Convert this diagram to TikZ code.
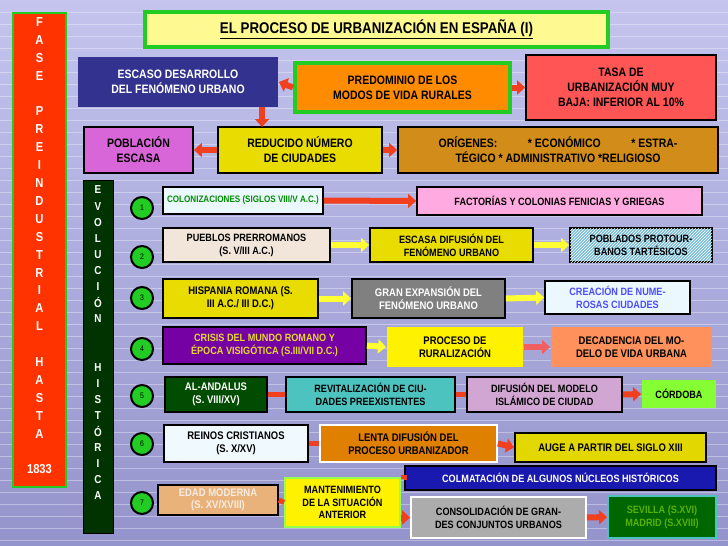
\documentclass[tikz,border=0pt]{standalone}
\usepackage{fontspec}
\setmainfont{Liberation Sans}[FakeStretch=0.86]
\usetikzlibrary{arrows.meta,patterns}
\definecolor{bgtop}{HTML}{C4C4EE}
\definecolor{bgbot}{HTML}{9494CC}
\definecolor{fred}{HTML}{FF3300}
\definecolor{fgreen}{HTML}{22CC22}
\definecolor{arrred}{HTML}{F04020}
\definecolor{arryel}{HTML}{FFFF33}
\definecolor{arrpink}{HTML}{F06060}
\newcommand\mybox[7]{\node[bx,#6,minimum width={#4-#2},minimum height={#5-#3}] (#1) at ({(#2+#4)/2},{(#3+#5)/2}) {#7};}
\tikzset{
 bx/.style={draw=black,line width=1.8pt,inner sep=1pt,align=center,font=\bfseries\fontsize{10.6}{12.8}\selectfont},
 big/.style={font=\bfseries\fontsize{12.2}{15}\selectfont},
 ra/.style={-{Triangle[length=8pt,width=14pt]},line width=6pt,draw=arrred},
 ya/.style={-{Triangle[length=8pt,width=14pt]},line width=6pt,draw=arryel},
 pa/.style={-{Triangle[length=8pt,width=14pt]},line width=6pt,draw=arrpink},
 rl/.style={line width=5pt,draw=arrred},
 num/.style={circle,draw=black,line width=2pt,fill=fgreen,minimum size=22pt,inner sep=0pt,font=\fontsize{8}{9}\selectfont}
}
\begin{document}
\begin{tikzpicture}[x=1pt,y=-1pt]
\useasboundingbox (0,0) rectangle (728,546);
\shade[top color=bgtop,bottom color=bgbot] (0,0) rectangle (728,546);
\foreach \k in {1,...,45} {\draw[white,opacity=0.35,line width=0.6pt] (0,\k*12) -- (728,\k*12);}
% Fase bar
\node[draw=fgreen,line width=2.5pt,fill=fred,minimum width=53pt,minimum height=474pt] (fase) at (39.5,250) {};
\foreach \t [count=\i] in {F,A,S,E,,P,R,E,I,N,D,U,S,T,R,I,A,L,,H,A,S,T,A,,1833}
  \node[text=white,font=\bfseries\fontsize{13}{13}\selectfont] at (39.5,{22+(\i-1)*17.9}) {\t};
% Evolucion bar
\node[draw=black,line width=1pt,fill=black!20!green!25!black,minimum width=30pt,minimum height=353pt] (evo) at (98,356.5) {};
\foreach \t [count=\i] in {E,V,O,L,U,C,I,Ó,N,,,H,I,S,T,Ó,R,I,C,A}
  \node[text=white,font=\bfseries\fontsize{11.5}{11.5}\selectfont] at (98,{190+(\i-1)*16.1}) {\t};
% title
\mybox{title}{145}{12}{608}{47}{draw=fgreen,line width=3.5pt,fill=yellow!40!white!95!yellow,font=\bfseries\fontsize{15.5}{17}\selectfont}{\underline{EL PROCESO DE URBANIZACIÓN EN ESPAÑA (I)}}
% top boxes
\mybox{escaso}{78}{57}{278}{107}{big,draw=none,fill=blue!45!black!80!white,text=white}{ESCASO DESARROLLO\\DEL FENÓMENO URBANO}
\mybox{predom}{295}{63}{510}{112}{big,draw=fgreen,line width=4pt,fill=orange!90!yellow}{PREDOMINIO DE LOS\\MODOS DE VIDA RURALES}
\mybox{tasa}{526}{55}{716}{120}{big,fill=red!65!white!95!red}{TASA DE\\URBANIZACIÓN MUY\\BAJA: INFERIOR AL 10\%}
\mybox{pobl}{84}{127}{193}{173}{big,fill=violet!50!magenta!60!white}{POBLACIÓN\\ESCASA}
\mybox{reduc}{218}{127}{382}{173}{big,fill=yellow!80!olive}{REDUCIDO NÚMERO\\DE CIUDADES}
\mybox{orig}{398}{127}{718}{173}{big,fill=orange!60!olive!90!white}{ORÍGENES:\hspace{2.5em}* ECONÓMICO\hspace{2.5em}* ESTRA-\\TÉGICO * ADMINISTRATIVO *RELIGIOSO}
\draw[ra] (predom.west) -- (escaso.east);
\draw[ra] (predom.east) -- (tasa.west);
\draw[ra] (262,107) -- (262,127);
\draw[ra] (reduc.west) -- (pobl.east);
\draw[ra] (reduc.east) -- (orig.west);
% circles
\foreach \n/\y in {1/208,2/257,3/298,4/349,5/396,6/444,7/503}
  \node[num] (c\n) at (142,\y) {\n};
% row 1
\mybox{colon}{163}{187}{323}{214}{fill=cyan!8!white,text=green!55!black,font=\bfseries\fontsize{9.4}{11}\selectfont}{COLONIZACIONES (SIGLOS VIII/V A.C.)}
\mybox{fact}{417}{187}{702}{215}{fill=pink!70!magenta!70!white}{FACTORÍAS Y COLONIAS FENICIAS Y GRIEGAS}
\draw[ra] (colon.east) -- (fact.west);
% row 2
\mybox{pueb}{163}{228}{330}{262}{fill=brown!20!white}{PUEBLOS PRERROMANOS\\(S. V/III A.C.)}
\mybox{escasa}{370}{228}{533}{262}{fill=yellow!80!olive}{ESCASA DIFUSIÓN DEL\\FENÓMENO URBANO}
\mybox{pobla}{570}{228}{712}{262}{fill=cyan!50!teal!60!white,postaction={pattern=north east lines,pattern color=white}}{POBLADOS PROTOUR-\\BANOS TARTÉSICOS}
\draw[ya] (pueb.east) -- (escasa.west);
\draw[ya] (escasa.east) -- (pobla.west);
% row 3
\mybox{hisp}{163}{279}{318}{318}{fill=yellow!80!olive,font=\bfseries\fontsize{11}{13}\selectfont}{HISPANIA ROMANA (S.\\III A.C./ III D.C.)}
\mybox{gran}{352}{279}{505}{318}{fill=gray,text=white,font=\bfseries\fontsize{11}{13}\selectfont}{GRAN EXPANSIÓN DEL\\FENÓMENO URBANO}
\mybox{crea}{545}{281}{690}{314}{fill=cyan!8!white,text=blue!70!white}{CREACIÓN DE NUME-\\ROSAS CIUDADES}
\draw[ya] (hisp.east) -- (gran.west);
\draw[ya] (gran.east) -- (crea.west);
% row 4
\mybox{crisis}{163}{327}{366}{364}{fill=violet!80!blue!90!magenta,text=yellow!70!olive!80!white}{CRISIS DEL MUNDO ROMANO Y\\ÉPOCA VISIGÓTICA (S.III/VII D.C.)}
\mybox{proc}{387}{327}{523}{367}{draw=none,fill=yellow,font=\bfseries\fontsize{11}{13}\selectfont}{PROCESO DE\\RURALIZACIÓN}
\mybox{deca}{551}{327}{712}{367}{draw=none,fill=orange!60!red!60!white!90!orange,font=\bfseries\fontsize{11}{13}\selectfont}{DECADENCIA DEL MO-\\DELO DE VIDA URBANA}
\draw[ya] (crisis.east) -- (proc.west);
\draw[pa] (proc.east) -- (deca.west);
% row 5
\mybox{anda}{165}{377}{267}{412}{fill=green!30!black,text=white,font=\bfseries\fontsize{11}{13}\selectfont}{AL-ANDALUS\\(S. VIII/XV)}
\mybox{revi}{286}{377}{455}{412}{fill=cyan!60!green!70!white}{REVITALIZACIÓN DE CIU-\\DADES PREEXISTENTES}
\mybox{difu}{467}{377}{622}{412}{fill=violet!35!white}{DIFUSIÓN DEL MODELO\\ISLÁMICO DE CIUDAD}
\mybox{cord}{642}{380}{716}{408}{draw=none,fill=green!60!yellow!80!white}{CÓRDOBA}
\draw[rl] (anda.east) -- (revi.west);
\draw[rl] (revi.east) -- (difu.west);
\draw[ra] (difu.east) -- (cord.west);
% row 6
\mybox{rein}{164}{425}{308}{462}{fill=cyan!6!white,font=\bfseries\fontsize{11}{13}\selectfont}{REINOS CRISTIANOS\\(S. X/XV)}
\mybox{lenta}{320}{425}{497}{462}{draw=white,fill=orange!75!olive,font=\bfseries\fontsize{11}{13}\selectfont}{LENTA DIFUSIÓN DEL\\PROCESO URBANIZADOR}
\mybox{auge}{515}{433}{706}{462}{fill=yellow!75!olive,font=\bfseries\fontsize{11}{13}\selectfont}{AUGE A PARTIR DEL SIGLO XIII}
\draw[rl] (rein.east) -- (lenta.west);
\draw[ra] (lenta.east) -- (auge.west);
% row 7
\mybox{colm}{405}{466}{716}{490}{fill=blue!65!black!90!white,text=white,font=\bfseries\fontsize{10.6}{12}\selectfont}{COLMATACIÓN DE ALGUNOS NÚCLEOS HISTÓRICOS}
\mybox{edad}{158}{485}{278}{515}{fill=brown!55!orange!60!white,text=white!85!brown,font=\bfseries\fontsize{11}{12.5}\selectfont}{EDAD MODERNA\\(S. XV/XVIII)}
\mybox{mant}{285}{478}{400}{527}{draw=green!60!yellow!70!white,fill=yellow,font=\bfseries\fontsize{10.6}{12.4}\selectfont}{MANTENIMIENTO\\DE LA SITUACIÓN\\ANTERIOR}
\mybox{cons}{411}{497}{586}{538}{draw=white,fill=gray!65!white,font=\bfseries\fontsize{10.6}{13}\selectfont}{CONSOLIDACIÓN DE GRAN-\\DES CONJUNTOS URBANOS}
\mybox{sev}{608}{496}{716}{538}{draw=cyan!60!green!70!white,fill=green!40!black,text=green!50!yellow!70!black,font=\bfseries\fontsize{10.6}{13}\selectfont}{SEVILLA (S.XVI)\\MADRID (S.XVIII)}
\draw[rl] (edad.east) -- (mant.west);
\draw[line width=4pt,draw=arrred] (mant.north east) -- ++(4,0) |- (colm.west);
\draw[ra] (mant.east |- cons.west) -- (cons.west);
\draw[ra] (cons.east) -- (sev.west);
\end{tikzpicture}
\end{document}
